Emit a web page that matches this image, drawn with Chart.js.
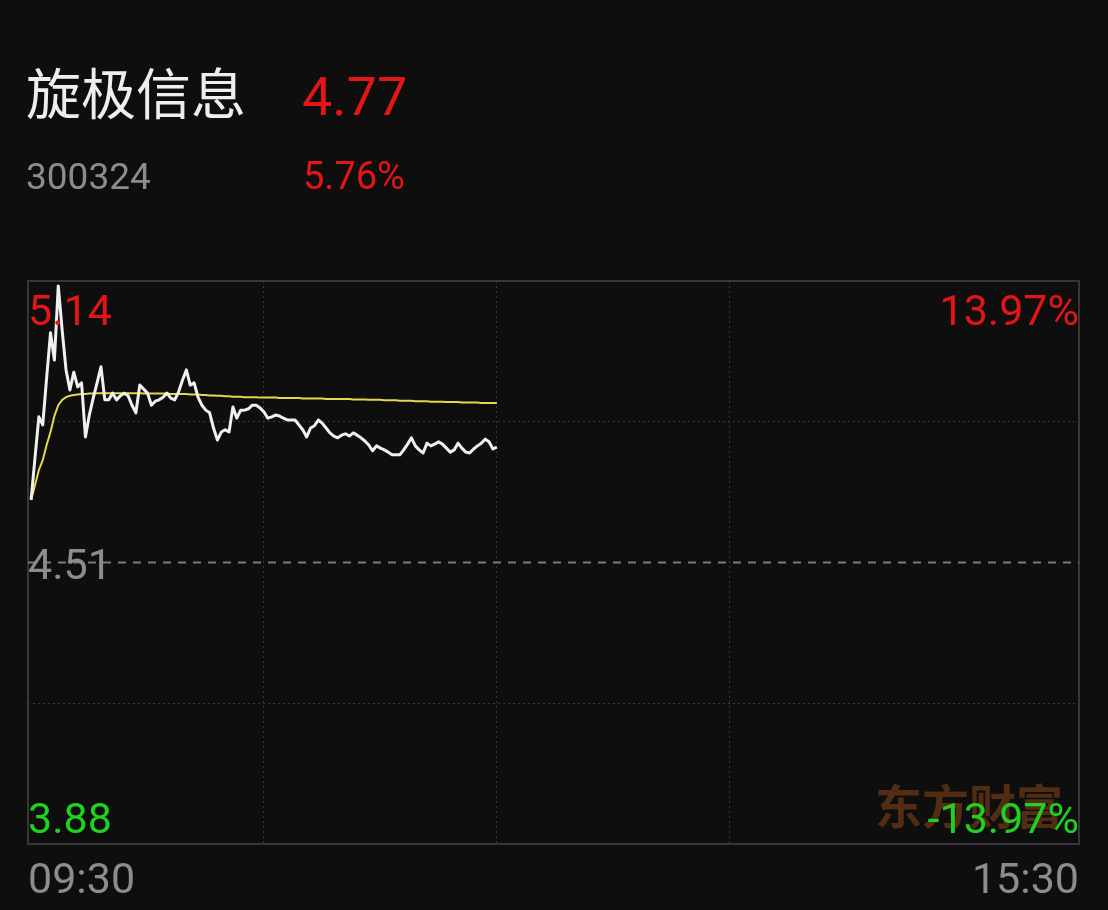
<!DOCTYPE html>
<html><head><meta charset="utf-8">
<script src="https://cdn.jsdelivr.net/npm/chart.js@4/dist/chart.umd.min.js"></script>
<style>
html,body{margin:0;padding:0;background:#0e0e0e;width:1108px;height:910px;overflow:hidden;}
#wrap{position:relative;width:1108px;height:910px;}
#c{position:absolute;left:0;top:0;width:1108px;height:910px;}
.t{position:absolute;white-space:nowrap;line-height:1;font-family:Roboto,"Noto Sans CJK SC",sans-serif;}
</style></head><body>
<div id="wrap">
<canvas id="c" width="1108" height="910"></canvas>
<div class="t" id="name" style="left:26px;top:63px;font-size:55px;color:#eeeeee;font-family:'Noto Sans CJK SC',sans-serif;"></div>
<div class="t" id="last" style="left:302px;top:70px;font-size:54px;color:#e31515;"></div>
<div class="t" id="code" style="left:26px;top:158px;font-size:37px;color:#8c8c8c;"></div>
<div class="t" id="pct" style="left:303px;top:157px;font-size:38px;color:#e31515;"></div>
</div>
<script>
// ---- header text ----
const stockName = '旋极信息';
const stockCode = '300324';
const lastPrice = '4.77';
const changePct = '5.76%';

// ---- axis labels ----
const priceLabels = ['5.14', '4.51', '3.88'];     // top, previous close, bottom
const pctLabels = ['13.97%', '-13.97%'];          // top, bottom
const timeLabels = ['09:30', '15:30'];            // left, right
const watermark = '东方财富';

// ---- scale values ----
const yMax = 5.14, yPrevClose = 4.51, yMin = 3.88;
const yGridValues = [3.88, 4.195, 4.51, 4.825, 5.14];
const xMin = -0.8, xMax = 270;                    // minutes from 09:30
const xGridValues = [60, 120, 180];

// ---- series: one value per minute from 09:30 ----
const price = [
 4.650, 4.744, 4.836, 4.818, 4.923, 5.024, 4.963, 5.129, 5.030, 4.941,
 4.896, 4.936, 4.903, 4.912, 4.791, 4.840, 4.878, 4.912, 4.948, 4.874,
 4.874, 4.889, 4.874, 4.883, 4.889, 4.883, 4.862, 4.845, 4.907, 4.898,
 4.889, 4.862, 4.871, 4.874, 4.880, 4.889, 4.878, 4.874, 4.892, 4.918,
 4.941, 4.907, 4.912, 4.880, 4.862, 4.851, 4.845, 4.811, 4.784, 4.802,
 4.807, 4.802, 4.858, 4.833, 4.851, 4.851, 4.854, 4.862, 4.862, 4.856,
 4.847, 4.833, 4.836, 4.840, 4.838, 4.833, 4.829, 4.829, 4.829, 4.818,
 4.807, 4.791, 4.811, 4.816, 4.829, 4.822, 4.811, 4.800, 4.793, 4.789,
 4.795, 4.798, 4.793, 4.800, 4.795, 4.789, 4.782, 4.773, 4.760, 4.771,
 4.766, 4.762, 4.757, 4.751, 4.751, 4.751, 4.762, 4.775, 4.789, 4.771,
 4.762, 4.755, 4.777, 4.771, 4.775, 4.780, 4.775, 4.766, 4.757, 4.762,
 4.777, 4.766, 4.757, 4.755, 4.764, 4.771, 4.777, 4.786, 4.780, 4.764,
 4.768
];
const avgPrice = [
 4.650, 4.683, 4.717, 4.739, 4.773, 4.802, 4.838, 4.862, 4.874, 4.880,
 4.883, 4.885, 4.886, 4.887, 4.887, 4.888, 4.888, 4.889, 4.889, 4.889,
 4.889, 4.889, 4.889, 4.889, 4.889, 4.889, 4.889, 4.889, 4.889, 4.888,
 4.888, 4.888, 4.888, 4.888, 4.888, 4.888, 4.887, 4.887, 4.887, 4.887,
 4.887, 4.886, 4.886, 4.886, 4.885, 4.885, 4.884, 4.884, 4.883, 4.883,
 4.882, 4.882, 4.881, 4.881, 4.881, 4.880, 4.880, 4.880, 4.880, 4.879,
 4.879, 4.879, 4.879, 4.879, 4.878, 4.878, 4.878, 4.878, 4.878, 4.878,
 4.877, 4.877, 4.877, 4.877, 4.877, 4.877, 4.876, 4.876, 4.876, 4.876,
 4.876, 4.876, 4.876, 4.875, 4.875, 4.875, 4.875, 4.874, 4.874, 4.874,
 4.874, 4.873, 4.873, 4.873, 4.873, 4.872, 4.872, 4.872, 4.872, 4.871,
 4.871, 4.871, 4.871, 4.870, 4.870, 4.870, 4.870, 4.869, 4.869, 4.869,
 4.869, 4.868, 4.868, 4.868, 4.868, 4.868, 4.867, 4.867, 4.867, 4.867,
 4.867
];

document.getElementById('name').textContent = stockName;
document.getElementById('last').textContent = lastPrice;
document.getElementById('code').textContent = stockCode;
document.getElementById('pct').textContent = changePct;

const RED = '#e31515', GREEN = '#1fd21f', GRAY = '#8c8c8c';
const NUMFONT = '43px Roboto, "Noto Sans", sans-serif';

const overlay = {
  id: 'overlay',
  beforeDatasetsDraw(chart) {
    const {ctx, chartArea: a} = chart;
    ctx.save();
    // frame
    ctx.strokeStyle = '#363636';
    ctx.lineWidth = 2;
    ctx.strokeRect(a.left, a.top, a.right - a.left, a.bottom - a.top);
    // watermark
    ctx.fillStyle = '#522c13';
    ctx.font = 'bold 47px "Noto Sans CJK SC", sans-serif';
    ctx.textAlign = 'right';
    ctx.textBaseline = 'alphabetic';
    ctx.fillText(watermark, a.right - 16, a.bottom - 20);
    ctx.restore();
  },
  afterDatasetsDraw(chart) {
    const {ctx, chartArea: a, scales: {y}} = chart;
    ctx.save();
    ctx.font = NUMFONT;
    ctx.textBaseline = 'alphabetic';
    ctx.textAlign = 'left';
    ctx.fillStyle = RED;
    ctx.fillText(priceLabels[0], a.left, y.getPixelForValue(yMax) + 44);
    ctx.fillStyle = GRAY;
    ctx.fillText(priceLabels[1], a.left, y.getPixelForValue(yPrevClose) + 16);
    ctx.fillStyle = GREEN;
    ctx.fillText(priceLabels[2], a.left, y.getPixelForValue(yMin) - 11);
    ctx.textAlign = 'right';
    ctx.fillStyle = RED;
    ctx.fillText(pctLabels[0], a.right, y.getPixelForValue(yMax) + 44);
    ctx.fillStyle = GREEN;
    ctx.fillText(pctLabels[1], a.right, y.getPixelForValue(yMin) - 11);
    ctx.fillStyle = GRAY;
    ctx.textAlign = 'left';
    ctx.fillText(timeLabels[0], a.left, a.bottom + 49);
    ctx.textAlign = 'right';
    ctx.fillText(timeLabels[1], a.right, a.bottom + 49);
    ctx.restore();
  }
};

new Chart(document.getElementById('c'), {
  type: 'line',
  data: {
    datasets: [
      {
        label: 'prevClose',
        data: [{x: xMin, y: yPrevClose}, {x: xMax, y: yPrevClose}],
        borderColor: '#7a7a7a', borderWidth: 2, borderDash: [8, 7],
        pointRadius: 0, order: 3
      },
      {
        label: 'avg',
        data: avgPrice.map((v, i) => ({x: i, y: v})),
        borderColor: '#e6d84e', borderWidth: 2, pointRadius: 0, tension: 0, order: 2
      },
      {
        label: 'price',
        data: price.map((v, i) => ({x: i, y: v})),
        borderColor: '#f0f0f0', borderWidth: 3, pointRadius: 0, tension: 0, order: 1,
        borderJoinStyle: 'round'
      }
    ]
  },
  options: {
    responsive: false,
    animation: false,
    devicePixelRatio: 1,
    layout: {padding: {left: 28, right: 29, top: 281, bottom: 66}},
    plugins: {legend: {display: false}, tooltip: {enabled: false}},
    scales: {
      x: {
        type: 'linear', min: xMin, max: xMax,
        afterBuildTicks: s => { s.ticks = xGridValues.map(v => ({value: v})); },
        ticks: {display: false},
        grid: {color: '#383838', lineWidth: 1, drawTicks: false},
        border: {display: false, dash: [2, 3]}
      },
      y: {
        min: yMin, max: yMax,
        afterBuildTicks: s => { s.ticks = yGridValues.map(v => ({value: v})); },
        ticks: {display: false},
        grid: {
          color: c => (c.tick && (c.tick.value === 4.195 || c.tick.value === 4.825)) ? '#383838' : 'rgba(0,0,0,0)',
          lineWidth: 1, drawTicks: false
        },
        border: {display: false, dash: [2, 3]}
      }
    }
  },
  plugins: [overlay]
});
</script>
</body></html>
